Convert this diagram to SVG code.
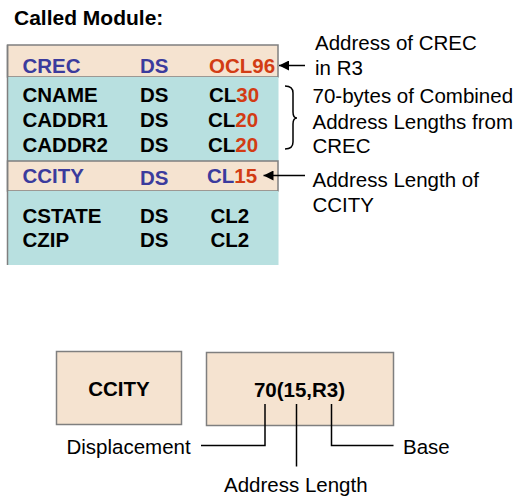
<svg xmlns="http://www.w3.org/2000/svg" width="523" height="500" viewBox="0 0 523 500">
  <style>
    text { font-family: "Liberation Sans", Arial, sans-serif; font-size: 20.5px; }
    .b { font-weight: bold; }
    .blue { fill: #3b3b9d; }
    .red { fill: #d23c14; }
    .blk { fill: #000000; }
    .peach { fill: #f5e3d0; stroke: #7f7f7f; stroke-width: 1.5; }
    .teal { fill: #b8e0e0; }
    .ln { stroke: #000000; stroke-width: 1.5; fill: none; }
  </style>
  <defs>
    <marker id="arrow" markerWidth="10" markerHeight="10" refX="10" refY="5" orient="auto" markerUnits="userSpaceOnUse">
      <path d="M0,0 L10,5 L0,10 Z" fill="#000000"/>
    </marker>
  </defs>

  <rect width="523" height="500" fill="#ffffff"/>

  <text id="title" class="b blk" x="14" y="25" style="font-size:21px">Called Module:</text>

  <!-- Storage definition table -->
  <g id="table">
    <rect class="peach" x="7.5" y="45" width="270.5" height="32"/>
    <rect class="teal" x="7.5" y="77" width="271" height="84"/>
    <rect class="peach" x="7.5" y="161" width="270.5" height="30"/>
    <rect class="teal" x="7.5" y="191" width="271" height="74"/>
    <line x1="7.5" y1="45" x2="7.5" y2="265" stroke="#7f7f7f" stroke-width="1.5"/>
  </g>

  <g id="row-crec" class="b">
    <text class="blue" x="22.5" y="73">CREC</text>
    <text class="blue" x="140" y="73">DS</text>
    <text class="red" x="209" y="73">OCL96</text>
  </g>
  <g id="row-cname" class="b">
    <text class="blk" x="22.5" y="102">CNAME</text>
    <text class="blk" x="140" y="102">DS</text>
    <text x="209" y="102"><tspan class="blk">CL</tspan><tspan class="red">30</tspan></text>
  </g>
  <g id="row-caddr1" class="b">
    <text class="blk" x="22.5" y="127">CADDR1</text>
    <text class="blk" x="140" y="127">DS</text>
    <text x="208" y="127"><tspan class="blk">CL</tspan><tspan class="red">20</tspan></text>
  </g>
  <g id="row-caddr2" class="b">
    <text class="blk" x="22.5" y="152">CADDR2</text>
    <text class="blk" x="140" y="152">DS</text>
    <text x="208" y="152"><tspan class="blk">CL</tspan><tspan class="red">20</tspan></text>
  </g>
  <g id="row-ccity" class="b">
    <text class="blue" x="22.5" y="183">CCITY</text>
    <text class="blue" x="140" y="185">DS</text>
    <text x="207" y="183"><tspan class="blue">CL</tspan><tspan class="red">15</tspan></text>
  </g>
  <g id="row-cstate" class="b">
    <text class="blk" x="22.5" y="223">CSTATE</text>
    <text class="blk" x="140" y="223">DS</text>
    <text class="blk" x="210.5" y="223">CL2</text>
  </g>
  <g id="row-czip" class="b">
    <text class="blk" x="22.5" y="247">CZIP</text>
    <text class="blk" x="140" y="247">DS</text>
    <text class="blk" x="210.5" y="247">CL2</text>
  </g>

  <!-- Annotations -->
  <g id="note-crec" class="blk">
    <text x="315" y="50">Address of CREC</text>
    <text x="315" y="75">in R3</text>
  </g>
  <g id="note-bytes" class="blk">
    <text x="312.5" y="103">70-bytes of Combined</text>
    <text x="312.5" y="129">Address Lengths from</text>
    <text x="312.5" y="153">CREC</text>
  </g>
  <g id="note-ccity" class="blk">
    <text x="312.5" y="187">Address Length of</text>
    <text x="312.5" y="212">CCITY</text>
  </g>

  <!-- Lower boxes -->
  <g id="box-ccity">
    <rect class="peach" x="56.5" y="351.5" width="125" height="73"/>
    <text class="b blk" x="119" y="396" text-anchor="middle">CCITY</text>
  </g>
  <g id="box-operand">
    <rect class="peach" x="206.5" y="352.5" width="187" height="73"/>
    <text class="b blk" x="299.5" y="397" text-anchor="middle">70(15,R3)</text>
  </g>
  <g id="label-displacement"><text class="blk" x="66.5" y="454">Displacement</text></g>
  <g id="label-length"><text class="blk" x="224" y="492">Address Length</text></g>
  <g id="label-base"><text class="blk" x="403" y="454">Base</text></g>

  <!-- Connectors -->
  <g id="connectors">
    <line class="ln" x1="305" y1="65.5" x2="279" y2="65.5" marker-end="url(#arrow)"/>
    <line class="ln" x1="305" y1="175.5" x2="263.5" y2="175.5" marker-end="url(#arrow)"/>
    <path class="ln" d="M285,86 Q293,86 293,93 L293,112 Q293,118 297,118 Q293,118 293,124 L293,142 Q293,149 285,149"/>
    <polyline class="ln" points="265,404 265,445.5 201,445.5"/>
    <line class="ln" x1="296.5" y1="404" x2="296.5" y2="466.5"/>
    <polyline class="ln" points="331.5,404 331.5,445.5 393.5,445.5"/>
  </g>
</svg>
